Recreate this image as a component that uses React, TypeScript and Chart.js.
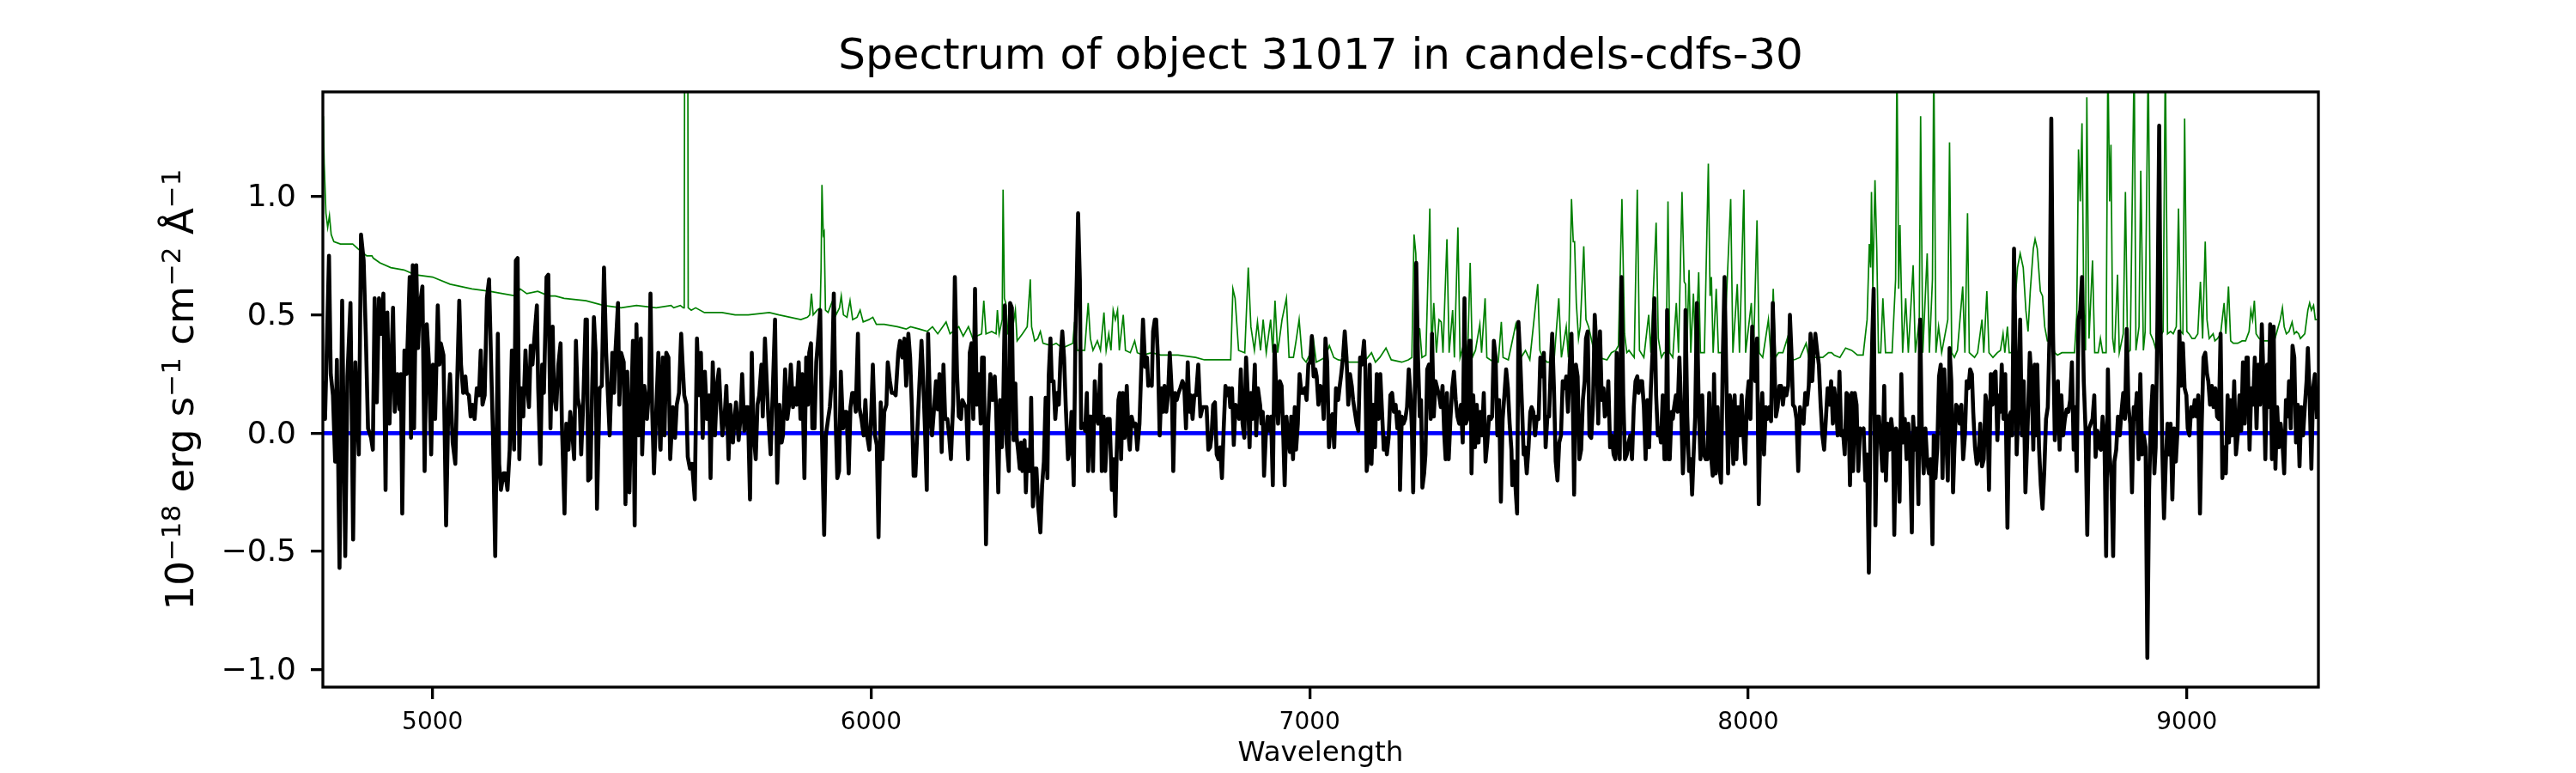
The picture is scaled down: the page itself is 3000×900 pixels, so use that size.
import React, { useEffect, useRef } from 'react';
import { Chart, registerables } from 'chart.js';

Chart.register(...registerables);

// ---------- text ----------
const TITLE = 'Spectrum of object 31017 in candels-cdfs-30';
const X_LABEL = 'Wavelength';
const Y_LABEL_PARTS = [
  { text: '10', sup: false },
  { text: '\u221218', sup: true },
  { text: ' erg s', sup: false },
  { text: '\u22121', sup: true },
  { text: ' cm', sup: false },
  { text: '\u22122', sup: true },
  { text: ' \u00c5', sup: false },
  { text: '\u22121', sup: true },
];

// ---------- axes ----------
const xTickValues = [5000, 6000, 7000, 8000, 9000];
const yTickValues = [-1.0, -0.5, 0.0, 0.5, 1.0];
const X_MIN = 4750;
const X_MAX = 9300;
const Y_MIN = -1.074;
const Y_MAX = 1.443;

// ---------- object spectrum (black) ----------
const fluxWave1 = [4751,4755,4764,4768,4773,4778,4782,4788,4794,4801,4806,4813,4819,4824,4832,4837,4843,4848,4853,4860,4864,4868,4873,4878,4883,4888,4893,4897,4902,4910,4914,4920,4925,4928,4931,4936,4941,4948,4951,4955,4958,4963,4967,4971,4977,4982,4987,4992,4997,5001,5006,5012,5016,5019,5025,5031,5036,5040,5046,5052,5057,5061,5065,5070,5075,5078,5083,5087,5091,5096,5101,5106,5110,5114,5119,5124,5129,5134,5138,5143,5149,5152,5156,5162,5166,5171,5176,5181,5186,5190,5194,5198,5202,5207,5212,5215,5220,5224,5228,5233,5238,5241,5246,5250,5254,5260,5264,5269,5274,5277,5282,5287,5292,5295,5301,5305,5310,5314,5318,5323,5327,5331,5336,5339,5344,5349,5352,5355,5360,5364,5368,5372,5375,5381,5386,5391,5396,5400,5404,5410,5414,5417,5423,5426,5430,5436,5440,5444,5449,5453,5457,5461,5465,5470,5475,5478,5483,5489,5494,5497,5501,5505,5511,5515,5519];
const fluxValue1 = [0.22,0.06,0.75,0.25,0.16,-0.12,0.31,-0.57,0.56,-0.52,0.24,0.55,-0.45,0.30,-0.09,0.84,0.73,0.41,0.02,-0.02,-0.07,0.57,0.13,0.57,0.42,0.59,-0.24,0.51,0.04,0.53,0.09,0.25,0.10,0.25,-0.34,0.35,0.25,0.66,-0.02,0.71,0.02,0.71,0.36,0.54,0.62,-0.16,0.46,0.29,-0.09,0.29,0.06,0.54,0.29,0.38,0.33,-0.39,0.11,0.25,-0.04,-0.13,0.27,0.56,0.29,0.17,0.24,0.17,0.16,0.07,0.12,0.06,0.19,0.16,0.35,0.12,0.16,0.57,0.65,0.27,-0.02,-0.52,0.42,-0.13,-0.24,-0.17,-0.17,-0.24,-0.07,0.35,-0.07,0.73,0.74,-0.11,0.19,0.07,0.35,0.22,0.11,0.37,0.29,0.42,0.54,0.19,-0.13,0.29,0.17,0.66,0.67,0.02,0.45,0.16,0.10,0.29,0.38,0.04,-0.34,0.04,-0.07,0.09,0.02,-0.11,0.39,0.15,0.10,-0.09,0.14,0.48,0.48,-0.20,-0.19,0.19,0.49,0.34,-0.32,0.19,0.20,0.70,0.34,0.16,-0.01,0.34,0.17,0.34,0.55,0.12,0.34,0.30,-0.30,0.26,-0.25,0.10,0.39,-0.39,0.46,-0.01,0.40,-0.09,0.20,0.06,0.19,0.59,0.09,-0.17,0.14,0.34,-0.06];

const fluxWave2 = [5520,5525,5529,5533,5538,5542,5548,5553,5557,5562,5567,5570,5574,5579,5582,5587,5592,5598,5603,5608,5612,5616,5621,5626,5631,5634,5639,5644,5649,5653,5657,5661,5666,5670,5675,5679,5685,5688,5692,5698,5702,5706,5711,5715,5719,5724,5728,5732,5737,5741,5745,5750,5753,5758,5762,5766,5771,5776,5781,5786,5791,5796,5799,5804,5809,5813,5817,5822,5826,5830,5835,5839,5843,5848,5852,5856,5859,5863,5866,5871,5875,5879,5884,5888,5893,5897,5902,5906,5911,5915,5919,5923,5927,5931,5936,5940,5944,5949,5953,5957,5961,5965,5970,5973,5978,5983,5987,5991,5996,6000,6004,6009,6013,6017,6022,6026,6030,6035,6038,6043,6047,6052,6056,6062,6066,6071,6076,6080,6085,6089,6093,6097,6101,6105,6110,6115,6119,6123,6127,6130,6135,6139,6143,6148,6152,6156,6161,6165,6169,6174,6178,6182,6187,6191,6196,6200,6205,6208,6213,6217,6221,6225,6229,6233,6237,6241,6246,6250,6253,6257,6262,6267,6272,6277,6282];
const fluxValue2 = [-0.07,0.32,-0.01,0.34,0.32,-0.11,0.11,-0.02,0.12,0.17,0.42,0.30,0.16,0.12,-0.10,-0.15,-0.13,-0.28,0.40,0.16,0.34,-0.02,0.26,0.06,0.16,-0.19,0.30,-0.01,0.21,0.27,0.11,-0.01,0.07,0.20,-0.11,0.12,-0.04,0.04,0.13,-0.03,0.06,0.25,0.01,0.11,0.11,-0.28,0.34,0.00,-0.11,0.12,0.16,0.29,0.07,0.40,0.22,0.06,-0.09,0.19,0.48,-0.21,0.12,-0.04,-0.01,0.27,0.06,0.12,0.29,0.11,0.19,0.12,0.30,0.06,0.25,-0.19,0.32,0.12,0.34,0.38,0.02,0.02,0.30,0.39,0.52,-0.01,-0.43,-0.01,0.06,0.11,0.25,0.59,0.07,-0.19,-0.16,0.26,0.02,0.09,0.09,-0.17,0.11,0.17,0.17,0.09,0.42,0.11,0.06,-0.01,0.14,-0.01,-0.07,0.06,0.29,-0.01,-0.05,-0.44,0.13,-0.11,0.09,0.12,0.30,0.22,0.17,0.17,0.16,0.34,0.39,0.32,0.40,0.20,0.42,0.32,0.11,-0.18,-0.18,-0.01,0.20,0.39,0.22,0.01,-0.24,0.42,0.07,-0.01,0.09,0.22,0.10,0.25,-0.08,0.29,0.06,0.06,-0.01,-0.11,0.12,0.66,0.25,0.07,0.06,0.14,0.12,0.11,-0.11,0.34,0.38,0.06,0.61,0.12,0.25,0.04,0.32,0.32,-0.47,0.04,0.25,0.14,0.24];

const fluxWave3 = [6285,6290,6294,6298,6301,6305,6309,6314,6317,6321,6325,6329,6332,6335,6339,6342,6345,6350,6353,6356,6362,6365,6369,6374,6377,6381,6386,6390,6394,6398,6402,6405,6409,6412,6416,6420,6424,6428,6432,6436,6440,6444,6449,6453,6457,6462,6466,6469,6472,6476,6479,6484,6488,6492,6495,6498,6502,6506,6510,6514,6518,6523,6526,6530,6534,6539,6544,6549,6553,6557,6560,6564,6567,6570,6574,6578,6583,6587,6590,6594,6599,6603,6607,6612,6616,6620,6625,6629,6632,6636,6640,6643,6647,6650,6654,6658,6662,6666,6669,6673,6677,6681,6686,6689,6693,6697,6701,6705,6710,6714,6718,6722,6726,6729,6733,6737,6741,6746,6751,6756,6761,6765,6769,6773,6776,6780,6784,6788,6792,6796,6800,6804,6808,6812,6816,6819,6823,6827,6831,6835,6839,6843,6847,6851,6855,6859,6863,6866,6870,6875,6878,6882,6887,6890,6893,6896,6900,6904,6908,6912,6916,6920,6924,6928,6932,6936,6940,6943,6947,6951,6955,6958,6962,6966,6969,6973,6977,6981,6985,6989,6993,6997,7001,7005,7009,7013,7016,7020,7024,7028,7032,7036,7040,7044];
const fluxValue3 = [0.11,-0.25,0.14,-0.06,0.09,0.54,-0.04,-0.16,0.55,0.53,-0.03,0.21,-0.02,-0.07,-0.15,-0.04,-0.16,-0.03,-0.25,-0.07,-0.16,0.15,-0.31,-0.15,-0.15,-0.31,-0.42,-0.22,-0.12,0.15,-0.19,0.24,0.40,0.22,0.22,0.06,0.17,0.12,0.32,0.43,0.32,0.11,-0.11,-0.07,0.09,-0.22,0.42,0.65,0.93,0.65,0.02,0.04,0.01,0.17,-0.16,0.07,0.07,-0.16,0.22,0.07,0.04,0.29,-0.16,0.07,-0.16,0.06,0.06,-0.24,-0.11,-0.35,-0.09,0.14,0.17,-0.11,0.17,-0.02,0.20,-0.01,-0.07,0.07,0.03,0.04,-0.07,0.04,0.27,0.48,0.28,0.32,0.20,0.22,0.20,0.43,0.48,0.48,0.32,-0.01,0.19,0.09,0.20,0.09,0.16,0.34,0.16,-0.16,0.17,0.14,0.17,0.19,0.22,0.20,0.02,0.30,0.09,0.16,0.06,0.16,0.16,0.29,0.07,0.11,0.11,0.11,-0.07,-0.06,-0.02,0.12,0.13,-0.09,-0.11,-0.06,-0.19,0.02,0.20,0.16,0.19,0.11,0.19,-0.05,0.12,0.11,0.06,0.27,0.04,-0.02,0.32,0.16,-0.06,0.17,0.06,0.29,-0.01,0.19,0.12,0.04,0.09,-0.18,-0.01,0.07,0.01,0.07,-0.22,0.37,0.17,0.04,0.22,0.20,-0.02,-0.22,0.07,-0.02,-0.08,0.07,-0.11,0.11,-0.07,0.04,0.25,0.17,0.17,0.19,0.14,0.29,0.30,0.41,0.24,0.27,0.24,0.12,0.20,0.19,0.06,0.40,0.30,-0.06];

const fluxWave4 = [7049,7052,7056,7060,7065,7068,7072,7076,7080,7084,7088,7092,7096,7099,7103,7107,7111,7115,7119,7124,7127,7130,7133,7137,7141,7145,7149,7153,7157,7161,7165,7169,7173,7176,7180,7184,7188,7192,7196,7200,7204,7206,7210,7214,7218,7222,7226,7230,7233,7236,7240,7243,7247,7251,7254,7257,7261,7264,7268,7272,7276,7279,7283,7287,7291,7295,7299,7303,7307,7310,7313,7317,7321,7325,7329,7333,7337,7341,7345,7349,7353,7356,7360,7364,7367,7369,7373,7377,7381,7385,7389,7393,7397,7401,7405,7409,7413,7416,7420,7424,7428,7432,7436,7440,7444,7448,7452,7456,7460,7462,7466,7470,7473,7476,7480,7484,7488,7491,7495,7499,7503,7506,7510,7514,7518,7522,7526,7530,7534,7538,7542,7546,7550,7553,7557,7561,7565,7569,7573,7577,7581,7585,7589,7593,7597,7600,7603,7607,7611,7615,7619,7623,7627,7630,7634,7638,7642,7646,7650,7654,7658,7662,7666,7670,7673,7677,7681,7685,7689,7693,7697,7700,7703,7707,7711,7715,7719,7723,7727,7731,7735,7739,7743,7747,7750,7754,7758,7762,7766,7770,7774,7778,7782,7786,7790,7794,7797,7801,7805,7809];
const fluxValue4 = [0.07,0.08,-0.06,0.19,0.14,0.19,0.25,0.32,0.43,0.32,0.12,0.25,0.20,0.14,0.09,0.04,0.01,0.32,0.29,0.39,0.27,-0.16,-0.11,0.29,-0.13,0.12,-0.06,0.25,0.06,0.25,0.09,-0.07,-0.02,-0.09,-0.02,0.16,0.17,0.09,0.12,0.02,0.09,-0.24,0.07,0.04,0.06,0.11,0.27,0.16,0.02,-0.25,0.20,0.72,0.32,0.07,0.14,-0.23,-0.17,-0.09,0.27,0.29,0.06,0.42,0.07,0.22,0.19,0.16,0.11,0.20,-0.01,-0.11,0.17,-0.11,0.06,0.19,0.26,0.14,0.07,0.04,0.12,-0.04,0.57,0.04,0.06,0.39,0.39,-0.17,0.16,-0.06,0.12,-0.04,0.09,-0.01,0.17,-0.12,-0.04,0.07,0.06,0.07,0.39,0.32,-0.01,0.14,-0.29,0.06,0.16,0.27,0.19,0.04,-0.07,-0.22,-0.12,-0.25,-0.34,0.47,0.32,0.12,-0.09,-0.06,-0.17,-0.06,0.09,0.11,0.09,-0.01,0.07,0.06,0.32,0.24,0.34,-0.06,0.07,0.07,0.30,0.42,0.19,-0.12,-0.20,-0.04,-0.01,0.22,0.19,0.24,0.09,0.29,0.42,0.14,-0.26,0.29,0.24,-0.11,-0.07,0.14,0.22,0.40,0.43,-0.01,-0.02,0.12,0.50,0.35,0.04,0.43,0.14,0.19,0.07,0.09,0.22,-0.06,-0.01,-0.09,-0.11,0.34,-0.01,-0.11,0.66,0.16,-0.11,-0.09,-0.04,-0.01,-0.11,0.11,0.22,0.24,0.17,0.22,0.22,0.11,-0.11,0.14,-0.06,0.19,0.35,0.57,0.16,-0.01,0.02,-0.04,0.16,-0.11];

const fluxWave5 = [7812,7815,7818,7821,7825,7828,7831,7835,7839,7843,7847,7851,7855,7857,7861,7865,7869,7872,7875,7879,7883,7887,7891,7895,7899,7903,7907,7911,7915,7919,7922,7926,7930,7934,7938,7942,7946,7950,7954,7958,7962,7966,7969,7973,7977,7981,7985,7989,7993,7997,8001,8005,8009,8012,8016,8020,8024,8028,8032,8036,8040,8044,8048,8052,8056,8059,8063,8067,8071,8075,8079,8083,8087,8091,8095,8099,8102,8106,8110,8114,8118,8122,8126,8130,8134,8138,8142,8146,8149,8153,8157,8161,8165,8169,8173,8177,8181,8185,8189,8193,8196,8200,8204,8208,8212,8216,8220,8224,8228,8232,8236,8239,8243,8247,8251,8255,8259,8263,8267,8271,8275,8279,8283,8286,8290,8294,8298,8302,8306,8310,8314,8318,8322,8326,8330,8333,8337,8341,8345,8349,8353,8357,8361,8365,8369,8373,8376,8380,8384,8388,8392,8396,8400,8404,8408,8412,8416,8420,8423,8427,8431,8435,8439,8443,8447,8451,8455,8459,8463,8467,8470,8474,8478,8482,8486,8490,8494,8498,8502,8506,8510,8513,8517,8521,8525,8529,8533,8537,8541,8545,8549,8553,8557,8560,8564,8568,8572];
const fluxValue5 = [-0.11,0.52,-0.11,-0.11,0.09,0.06,0.11,0.16,0.09,0.32,0.11,-0.17,-0.01,0.52,0.07,-0.16,-0.11,-0.26,-0.11,0.07,0.55,0.12,-0.11,0.16,-0.09,-0.11,-0.11,0.17,-0.09,-0.18,0.25,-0.17,0.11,-0.14,-0.21,0.32,0.66,0.24,-0.17,0.16,0.11,-0.13,0.16,-0.11,0.11,-0.01,0.16,-0.01,-0.13,0.14,0.22,0.06,0.45,0.32,0.22,0.40,-0.30,0.04,0.17,-0.09,0.11,0.06,0.11,0.05,0.55,0.35,0.07,0.11,0.20,0.20,0.12,0.19,0.16,0.20,0.50,0.32,0.12,0.11,0.06,-0.16,0.11,0.06,0.04,0.17,0.12,0.20,0.42,0.22,0.34,0.42,0.35,0.29,0.12,-0.01,-0.07,0.06,0.19,0.12,0.22,0.04,0.19,0.12,-0.01,0.26,-0.01,0.01,-0.09,0.17,0.16,-0.22,0.17,-0.16,0.17,0.12,-0.16,0.02,0.01,0.02,-0.20,-0.09,-0.59,0.07,0.42,0.61,-0.39,0.07,0.07,-0.04,-0.16,0.20,-0.20,0.04,-0.07,0.06,-0.01,-0.43,0.02,-0.01,-0.29,0.25,-0.04,0.06,-0.11,0.04,-0.09,-0.42,0.07,-0.07,0.02,-0.30,0.48,-0.01,-0.17,0.02,-0.12,-0.17,-0.11,-0.47,-0.01,-0.19,-0.06,0.24,0.29,-0.19,0.27,0.01,-0.20,0.36,0.22,-0.25,-0.07,0.12,0.11,0.04,0.12,-0.11,-0.01,0.22,0.19,0.27,0.25,0.09,-0.06,-0.13,-0.11,0.04,-0.14,-0.11,0.16,0.11,-0.24,0.25,0.12,0.25,0.26,-0.03,0.16];

const fluxWave6 = [8575,8578,8582,8586,8591,8595,8599,8602,8606,8610,8612,8616,8620,8624,8628,8632,8636,8638,8642,8646,8650,8653,8656,8659,8663,8667,8671,8675,8679,8683,8687,8691,8695,8699,8702,8706,8710,8714,8718,8722,8726,8730,8734,8738,8742,8745,8749,8753,8757,8761,8765,8769,8773,8777,8781,8785,8789,8792,8796,8800,8804,8808,8812,8816,8820,8824,8828,8832,8835,8839,8843,8847,8851,8855,8859,8863,8867,8871,8875,8879,8882,8886,8890,8894,8898,8902,8906,8910,8914,8918,8922,8926,8929,8933,8937,8940,8944,8948,8952,8956,8959,8963,8967,8971,8975,8979,8983,8987,8991,8995,8999,9002,9006,9010,9014,9018,9022,9026,9030,9034,9038,9042,9046,9049,9053,9057,9061,9065,9069,9073,9077,9081,9085,9089,9093,9096,9100,9104,9108,9112,9116,9120,9124,9128,9132,9136,9139,9143,9147,9151,9155,9159,9163,9167,9171,9175,9179,9183,9186,9190,9194,9198,9202,9206,9210,9214,9218,9222,9226,9230,9233,9237,9241,9245,9249,9253,9257,9261,9265,9269,9273,9276,9280,9284,9288,9292,9297];
const fluxValue6 = [0.09,0.29,0.06,0.25,-0.40,0.07,0.09,-0.01,0.78,0.29,-0.09,0.11,0.48,-0.01,0.22,-0.25,-0.04,0.09,0.34,0.22,-0.07,0.29,-0.01,0.29,-0.06,-0.22,-0.32,-0.16,0.06,0.11,0.42,1.33,0.42,-0.03,0.09,0.22,-0.07,0.16,-0.01,0.06,0.10,0.09,0.14,0.30,-0.07,0.11,-0.16,0.48,0.52,0.66,0.22,0.02,-0.43,0.02,0.04,0.06,0.16,-0.10,0.01,-0.06,-0.07,0.07,-0.01,-0.52,0.27,-0.09,-0.19,-0.52,-0.12,-0.07,0.07,-0.01,0.09,0.17,0.06,0.44,0.11,0.04,-0.25,0.11,0.06,0.17,-0.11,0.25,-0.09,-0.01,-0.06,-0.95,-0.24,0.06,0.20,-0.17,-0.06,0.48,1.30,0.48,-0.07,-0.36,-0.12,0.04,-0.09,0.04,-0.28,0.02,-0.12,0.02,0.43,0.20,0.38,0.19,0.16,0.02,-0.01,0.11,0.07,0.14,0.07,0.16,-0.34,0.04,0.32,0.34,0.25,0.22,0.12,0.20,0.11,0.19,0.07,0.06,0.42,-0.19,-0.06,-0.17,0.16,-0.04,0.14,-0.01,0.22,-0.09,-0.01,0.16,0.01,0.30,0.04,0.32,0.32,-0.07,0.19,0.12,0.32,0.02,0.29,0.12,0.46,0.22,-0.11,0.29,0.11,0.46,-0.11,0.45,-0.15,0.11,-0.06,0.04,-0.04,-0.17,0.14,0.07,0.22,0.02,0.37,0.32,-0.04,0.12,-0.14,0.11,-0.01,0.11,0.22,0.36,0.16,-0.15,0.19,0.25,0.06];

// ---------- error / sky spectrum (green) ----------
const errWave1 = [4751,4753,4757,4761,4765,4769,4775,4790,4805,4818,4830,4850,4862,4865,4880,4905,4935,4960,5000,5040,5090,5130,5160,5190,5200,5215,5240,5265,5280,5300,5350,5390,5430,5465,5510];
const errValue1 = [1.34,1.14,0.93,0.87,0.92,0.84,0.81,0.80,0.80,0.80,0.78,0.75,0.75,0.74,0.72,0.70,0.69,0.67,0.66,0.63,0.61,0.60,0.59,0.58,0.61,0.59,0.60,0.58,0.58,0.57,0.56,0.54,0.53,0.54,0.53];

const errWave2 = [5544,5550,5565,5572,5574,5576,5581,5583,5590,5600,5620,5640,5660,5690,5720,5768,5790,5840,5855,5860,5864,5868,5877,5884,5886,5888,5891,5893,5896,5902,5910,5915,5920,5928,5932,5937,5945,5952,5958,5968,5975,5982,5995,6004,6012,6030,6060,6080,6090,6110,6128,6140,6152,6171,6180,6200,6210,6222,6232,6240,6252,6257,6262,6275];
const errValue2 = [0.54,0.53,0.54,0.53,0.53,3.0,3.0,0.53,0.52,0.53,0.51,0.51,0.51,0.50,0.50,0.51,0.50,0.48,0.49,0.50,0.59,0.50,0.52,0.53,0.70,1.05,0.84,0.85,0.52,0.51,0.55,0.57,0.50,0.53,0.58,0.50,0.49,0.56,0.48,0.49,0.52,0.47,0.48,0.49,0.46,0.46,0.45,0.44,0.45,0.44,0.43,0.45,0.42,0.47,0.42,0.45,0.41,0.45,0.40,0.41,0.42,0.56,0.42,0.43];

const errWave3 = [6285,6288,6292,6299,6301,6304,6307,6312,6320,6329,6333,6345,6356,6363,6366,6373,6380,6386,6392,6410,6422,6436,6448,6460,6464,6470,6487,6495,6500,6506,6516,6523,6531,6536,6542,6547,6552,6557,6562,6566,6575,6580,6591,6601,6607,6620,6640,6660,6700,6740,6760,6800,6820,6825,6830,6838,6852,6860,6866,6874,6881,6888,6894,6901,6911,6916,6921,6927,6937,6947,6953,6963,6969,6976,6983,6992,7002,7009,7015,7025,7035,7045];
const errValue3 = [0.42,0.52,0.42,0.48,1.03,0.57,0.55,0.42,0.41,0.52,0.39,0.42,0.45,0.65,0.45,0.39,0.40,0.43,0.38,0.37,0.38,0.36,0.37,0.38,0.47,0.35,0.35,0.55,0.40,0.35,0.39,0.35,0.51,0.35,0.42,0.35,0.52,0.48,0.52,0.35,0.50,0.35,0.34,0.39,0.34,0.33,0.34,0.33,0.33,0.32,0.31,0.31,0.31,0.61,0.57,0.35,0.34,0.70,0.45,0.35,0.47,0.35,0.48,0.34,0.48,0.34,0.56,0.34,0.48,0.57,0.32,0.32,0.39,0.48,0.32,0.30,0.34,0.39,0.30,0.31,0.32,0.37];

const errWave4 = [7055,7065,7090,7110,7128,7141,7150,7160,7174,7186,7210,7225,7233,7238,7242,7246,7251,7256,7265,7274,7278,7283,7289,7295,7300,7304,7313,7318,7326,7330,7338,7343,7355,7360,7366,7371,7378,7388,7392,7400,7404,7420,7430,7437,7441,7453,7470,7476,7482,7492,7502,7520,7525,7531,7541,7557,7568,7574,7585,7590,7597,7601,7604,7608,7613,7617,7625,7630,7636,7642,7649,7658,7678,7688,7698,7704,7712,7718,7723,7728,7740,7747,7752,7762,7773,7778,7790,7795,7802,7808];
const errValue4 = [0.32,0.31,0.30,0.30,0.31,0.34,0.30,0.32,0.36,0.31,0.30,0.31,0.32,0.84,0.76,0.45,0.44,0.32,0.33,0.95,0.34,0.55,0.34,0.48,0.47,0.34,0.82,0.34,0.52,0.32,0.87,0.32,0.40,0.32,0.72,0.32,0.35,0.46,0.34,0.57,0.32,0.30,0.30,0.47,0.32,0.31,0.46,0.40,0.32,0.35,0.31,0.63,0.35,0.32,0.30,0.30,0.57,0.32,0.45,0.32,0.99,0.81,0.81,0.55,0.40,0.45,0.79,0.48,0.45,0.40,0.34,0.32,0.31,0.34,0.35,0.37,0.99,0.42,0.34,0.35,0.32,1.03,0.35,0.32,0.50,0.34,0.89,0.40,0.32,0.34];

const errWave5 = [7813,7817,7821,7828,7836,7841,7849,7854,7857,7860,7865,7869,7875,7880,7887,7891,7900,7909,7913,7916,7920,7927,7932,7945,7960,7965,7975,7980,7990,7994,8007,8012,8020,8025,8033,8046,8052,8057,8062,8069,8079,8089,8093,8105,8118,8132,8138,8157,8170,8183,8190,8196,8209,8222,8236,8249,8262,8271,8276,8279,8281,8284,8289,8293,8297,8302,8307,8313,8328,8336,8339,8343,8346,8352,8359,8365,8376,8381,8390,8393,8398,8408,8413,8420,8423,8428,8434,8441,8455,8459,8464,8470,8477,8489,8494,8500,8504,8516,8523,8533,8537,8544,8549,8558,8568];
const errValue5 = [0.34,0.98,0.34,0.32,0.55,0.34,1.02,0.64,0.63,0.34,0.69,0.34,0.59,0.34,0.68,0.34,0.34,1.14,0.58,0.66,0.34,0.61,0.34,0.34,0.99,0.34,0.63,0.34,1.03,0.34,0.55,0.34,0.90,0.34,0.32,0.48,0.32,0.61,0.32,0.34,0.34,0.40,0.32,0.31,0.32,0.38,0.32,0.32,0.32,0.34,0.34,0.33,0.32,0.36,0.35,0.33,0.33,0.48,0.80,0.70,1.02,0.61,1.07,0.78,0.34,0.34,0.57,0.34,0.34,0.65,1.6,0.61,0.88,0.34,0.57,0.34,0.71,0.34,0.48,1.34,0.34,0.76,0.34,0.65,1.6,0.34,0.45,0.34,0.48,1.23,0.34,0.32,0.35,0.62,0.34,0.93,0.34,0.32,0.34,0.48,0.34,0.60,0.34,0.32,0.34];

const errWave6 = [8575,8581,8585,8591,8595,8601,8607,8614,8620,8627,8633,8638,8643,8650,8654,8659,8666,8671,8676,8682,8692,8699,8705,8715,8725,8734,8744,8749,8753,8757,8761,8765,8769,8772,8777,8785,8790,8798,8803,8808,8816,8820,8824,8827,8831,8835,8842,8846,8855,8860,8865,8871,8880,8884,8891,8895,8901,8905,8912,8917,8924,8930,8937,8943,8946,8951,8956,8963,8969,8976,8981,8986,8991,8995,9000,9005,9012,9018,9025,9031,9036,9042,9046,9051,9060,9064,9070,9077,9085,9089,9095,9100,9106,9116,9126,9134,9142,9146,9150,9154,9158,9165,9175,9184,9194,9201,9207,9213,9218,9222,9227,9233,9240,9245,9250,9255,9259,9269,9276,9280,9284,9289,9293,9297];
const errValue6 = [0.35,0.42,0.34,0.45,0.34,0.34,0.52,0.70,0.76,0.70,0.52,0.43,0.60,0.78,0.82,0.78,0.60,0.58,0.45,0.39,0.39,0.34,0.33,0.34,0.34,0.34,0.34,0.50,1.20,0.98,1.31,0.55,0.35,1.42,0.40,0.73,0.34,0.34,0.40,0.34,0.34,1.6,0.98,1.22,0.40,0.34,0.67,0.34,0.42,1.02,0.34,0.35,1.6,0.35,0.45,1.11,0.35,0.43,1.6,0.42,0.39,0.35,0.40,0.42,0.43,1.6,0.42,0.43,0.42,0.45,0.95,0.43,0.42,1.33,0.43,0.42,0.40,0.40,0.42,0.64,0.40,0.81,0.48,0.40,0.42,0.39,0.40,0.42,0.55,0.42,0.62,0.39,0.38,0.38,0.39,0.39,0.43,0.52,0.48,0.56,0.42,0.40,0.39,0.39,0.39,0.40,0.44,0.48,0.53,0.45,0.42,0.43,0.47,0.42,0.43,0.42,0.40,0.42,0.52,0.55,0.52,0.54,0.48,0.48];

// ---------- zero reference line (blue) ----------
const zeroWave = [4750, 9300];
const zeroValue = [0, 0];

const toPoints = (waves: number[][], values: number[][]) => {
  const pts: { x: number; y: number }[] = [];
  waves.forEach((w, s) => {
    const v = values[s];
    const n = Math.min(w.length, v.length);
    for (let i = 0; i < n; i++) pts.push({ x: w[i], y: v[i] });
  });
  return pts;
};

const FONT = '"DejaVu Sans", "Liberation Sans", sans-serif';

const framePlugin = {
  id: 'axesFrame',
  afterDatasetsDraw(chart: any) {
    const { ctx, chartArea: a } = chart;
    ctx.save();
    ctx.strokeStyle = '#000000';
    ctx.lineWidth = 3.3;
    ctx.strokeRect(a.left, a.top, a.right - a.left, a.bottom - a.top);
    ctx.restore();
  },
};

const yLabelPlugin = {
  id: 'yLabelMath',
  afterDraw(chart: any) {
    const { ctx, chartArea: a } = chart;
    const mainFont = `45px ${FONT}`;
    const supFont = `31px ${FONT}`;
    ctx.save();
    const widths = Y_LABEL_PARTS.map((p) => {
      ctx.font = p.sup ? supFont : mainFont;
      return ctx.measureText(p.text).width;
    });
    const total = widths.reduce((s, w) => s + w, 0);
    ctx.translate(a.left - 151, (a.top + a.bottom) / 2);
    ctx.rotate(-Math.PI / 2);
    ctx.fillStyle = '#000000';
    ctx.textAlign = 'left';
    ctx.textBaseline = 'alphabetic';
    let x = -total / 2;
    Y_LABEL_PARTS.forEach((p, i) => {
      ctx.font = p.sup ? supFont : mainFont;
      ctx.fillText(p.text, x, p.sup ? -15 : 0);
      x += widths[i];
    });
    ctx.restore();
  },
};

export default function App() {
  const canvasRef = useRef<HTMLCanvasElement | null>(null);

  useEffect(() => {
    const canvas = canvasRef.current;
    if (!canvas) return;

    const fluxPoints = toPoints(
      [fluxWave1, fluxWave2, fluxWave3, fluxWave4, fluxWave5, fluxWave6],
      [fluxValue1, fluxValue2, fluxValue3, fluxValue4, fluxValue5, fluxValue6]
    );
    const errPoints = toPoints(
      [errWave1, errWave2, errWave3, errWave4, errWave5, errWave6],
      [errValue1, errValue2, errValue3, errValue4, errValue5, errValue6]
    );
    const zeroPoints = toPoints([zeroWave], [zeroValue]);

    const tickGrid = {
      drawOnChartArea: false,
      drawTicks: true,
      tickLength: 14,
      color: '#000000',
      lineWidth: 3.3,
    };

    const chart = new Chart(canvas, {
      type: 'line',
      data: {
        datasets: [
          {
            label: 'flux',
            data: fluxPoints,
            borderColor: '#000000',
            borderWidth: 4.6,
            pointRadius: 0,
            tension: 0,
            fill: false,
            order: 0,
            clip: 0,
            borderJoinStyle: 'round',
          },
          {
            label: 'error',
            data: errPoints,
            borderColor: '#008000',
            borderWidth: 1.7,
            pointRadius: 0,
            tension: 0,
            fill: false,
            order: 1,
            clip: 0,
          },
          {
            label: 'zero',
            data: zeroPoints,
            borderColor: '#0000ff',
            borderWidth: 4.8,
            pointRadius: 0,
            tension: 0,
            fill: false,
            order: 2,
            clip: 0,
          },
        ],
      },
      options: {
        animation: false,
        responsive: false,
        devicePixelRatio: 1,
        events: [],
        layout: { padding: { left: 0, right: 300, top: 0, bottom: 0 } },
        plugins: {
          legend: { display: false },
          tooltip: { enabled: false },
          title: {
            display: true,
            text: TITLE,
            color: '#000000',
            fullSize: false,
            font: { family: FONT, size: 50, weight: 'normal' },
            padding: { top: 37, bottom: 10 },
          },
        },
        scales: {
          x: {
            type: 'linear',
            min: X_MIN,
            max: X_MAX,
            afterBuildTicks: (axis: any) => {
              axis.ticks = xTickValues.map((v) => ({ value: v }));
            },
            afterFit: (axis: any) => {
              axis.height = 100;
            },
            grid: tickGrid,
            border: { display: false },
            ticks: {
              color: '#000000',
              font: { family: FONT, size: 28 },
              padding: 11,
              maxRotation: 0,
              autoSkip: false,
              callback: (v: any) => String(v),
            },
            title: {
              display: true,
              text: X_LABEL,
              color: '#000000',
              font: { family: FONT, size: 32.5 },
              padding: { top: 0, bottom: 3 },
            },
          },
          y: {
            type: 'linear',
            min: Y_MIN,
            max: Y_MAX,
            afterBuildTicks: (axis: any) => {
              axis.ticks = yTickValues.map((v) => ({ value: v }));
            },
            afterFit: (axis: any) => {
              axis.width = 376;
            },
            grid: tickGrid,
            border: { display: false },
            ticks: {
              color: '#000000',
              font: { family: FONT, size: 36 },
              padding: 17,
              labelOffset: 2,
              autoSkip: false,
              callback: (v: any) => Number(v).toFixed(1).replace('-', '\u2212'),
            },
          },
        },
      },
      plugins: [framePlugin, yLabelPlugin],
    } as any);

    return () => {
      chart.destroy();
    };
  }, []);

  return (
    <div style={{ position: 'fixed', left: 0, top: 0, width: 3000, height: 900, background: '#ffffff' }}>
      <canvas ref={canvasRef} width={3000} height={900} style={{ display: 'block', width: 3000, height: 900 }} />
    </div>
  );
}
